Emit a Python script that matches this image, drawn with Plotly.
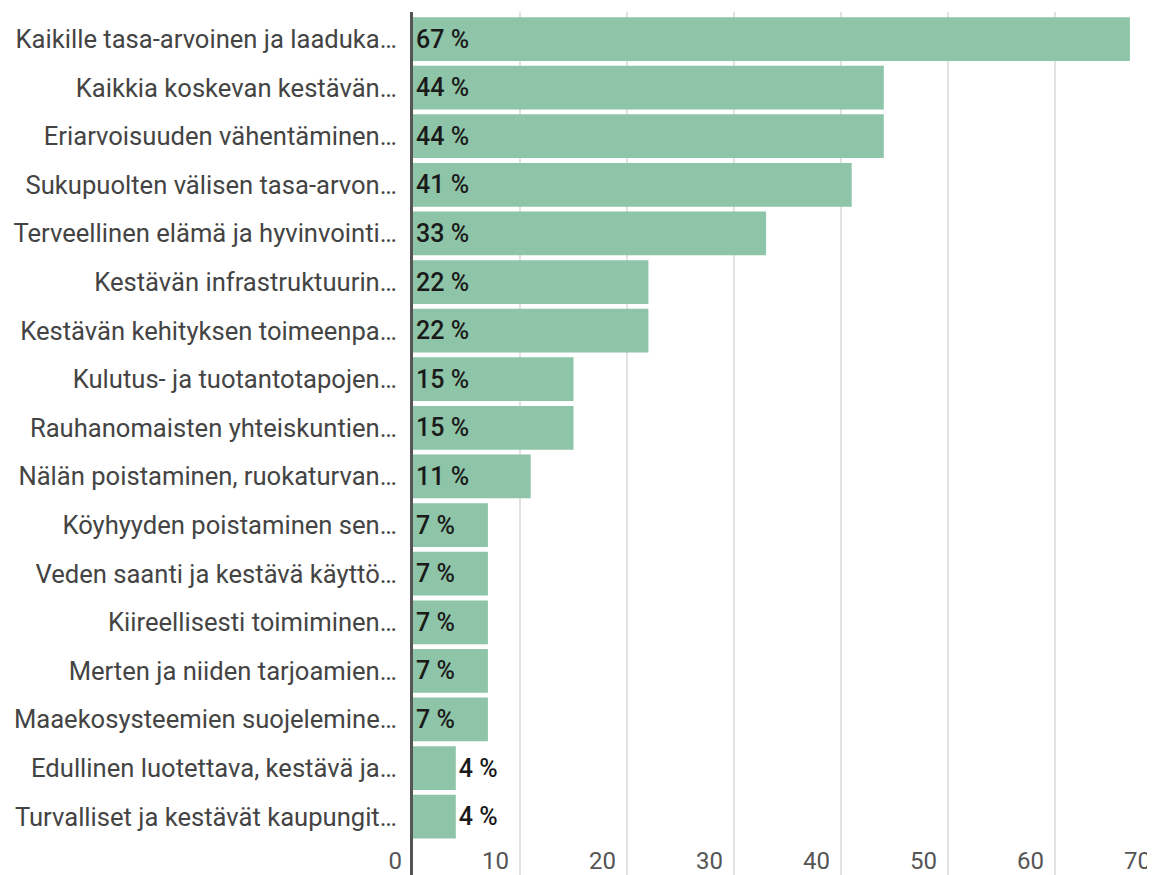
import plotly.graph_objects as go

# vastaukset, suurimmasta pienimpään
categories = [
    'Kaikille tasa-arvoinen ja laaduka…',
    'Kaikkia koskevan kestävän…',
    'Eriarvoisuuden vähentäminen…',
    'Sukupuolten välisen tasa-arvon…',
    'Terveellinen elämä ja hyvinvointi…',
    'Kestävän infrastruktuurin…',
    'Kestävän kehityksen toimeenpa…',
    'Kulutus- ja tuotantotapojen…',
    'Rauhanomaisten yhteiskuntien…',
    'Nälän poistaminen, ruokaturvan…',
    'Köyhyyden poistaminen sen…',
    'Veden saanti ja kestävä käyttö…',
    'Kiireellisesti toimiminen…',
    'Merten ja niiden tarjoamien…',
    'Maaekosysteemien suojelemine…',
    'Edullinen luotettava, kestävä ja…',
    'Turvalliset ja kestävät kaupungit…',
]
percent = [67, 44, 44, 41, 33, 22, 22, 15, 15, 11, 7, 7, 7, 7, 7, 4, 4]
x_ticks = [0, 10, 20, 30, 40, 50, 60, 70]

BAR = '#8ec4a7'
FONT = 'Roboto'

labels = [f'{p} %' for p in percent]
# pienet palkit: teksti palkin ulkopuolelle
positions = ['inside' if p >= 5 else 'outside' for p in percent]

fig = go.Figure(go.Bar(
    x=percent,
    y=categories,
    orientation='h',
    marker=dict(color=BAR, line=dict(width=0)),
    text=labels,
    textposition=positions,
    insidetextanchor='start',
    textfont=dict(family=FONT, size=25, color='#1a1a1a', weight=500),
    cliponaxis=False,
    hoverinfo='skip',
))

# sivun body-marginaali (8 px) huomioitu; oikea reuna jatkuu hieman ikkunan yli
fig.update_layout(
    width=1154, height=867,
    margin=dict(l=405, r=0, t=4, b=0),
    paper_bgcolor='white', plot_bgcolor='white',
    bargap=0.1,
    showlegend=False,
    uniformtext=dict(minsize=25, mode='show'),
    font=dict(family=FONT, size=25, color='#444'),
)

fig.update_xaxes(
    range=[0, 70],
    tickvals=x_ticks,
    anchor='free', position=0.036,
    ticklabelposition='outside left',
    ticklabelshift=-11,
    tickfont=dict(family=FONT, size=24, color='#555'),
    showgrid=True, gridcolor='#e2e2e2', gridwidth=1.5,
    zeroline=False, showline=False, ticks='',
    automargin=False,
)

fig.update_yaxes(
    type='category',
    categoryorder='array', categoryarray=categories,
    range=[17.2, -0.556],
    showline=True, linecolor='#555', linewidth=3,
    showgrid=False, zeroline=False, ticks='',
    ticklabelstandoff=8,
    tickfont=dict(family=FONT, size=25.6, color='#444'),
    automargin=False,
)

fig.write_html('out.html')
